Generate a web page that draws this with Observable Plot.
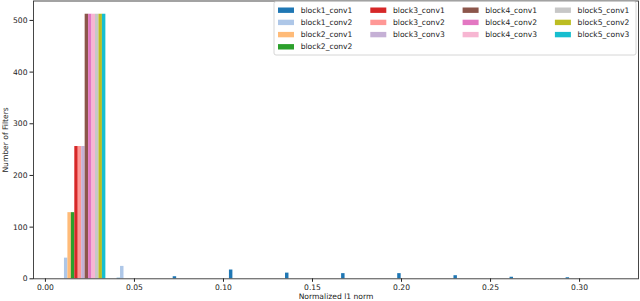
<!DOCTYPE html>
<html>
<head>
<meta charset="utf-8">
<script src="https://cdn.jsdelivr.net/npm/d3@7"></script>
<script src="https://cdn.jsdelivr.net/npm/@observablehq/plot@0.6"></script>
<style>
  html, body { margin: 0; padding: 0; background: #fff; }
  #chart { width: 640px; height: 301px; }
  svg { font-family: "DejaVu Sans", sans-serif; }
</style>
</head>
<body>
<div id="chart"></div>
<script>
// Layer names (series), in the order matplotlib draws them
const series = [
  "block1_conv1", "block1_conv2", "block2_conv1", "block2_conv2",
  "block3_conv1", "block3_conv2", "block3_conv3",
  "block4_conv1", "block4_conv2", "block4_conv3",
  "block5_conv1", "block5_conv2", "block5_conv3"
];
// tab20 colours sampled for 13 series
const colors = [
  "#1f77b4", "#aec7e8", "#ffbb78", "#2ca02c",
  "#d62728", "#ff9896", "#c5b0d5",
  "#8c564b", "#e377c2", "#f7b6d2",
  "#c7c7c7", "#bcbd22", "#17becf"
];
// Histogram bin edges (10 bins)
const binEdges = [0.0056, 0.0371, 0.0686, 0.1002, 0.1317, 0.1632, 0.1947, 0.2263, 0.2578, 0.2893, 0.3208];

// Counts per bin for each layer
const block1_conv1 = [0, 1, 4, 17, 11, 10, 10, 6, 3, 2];
const block1_conv2 = [40, 24, 0, 0, 0, 0, 0, 0, 0, 0];
const block2_conv1 = [128, 0, 0, 0, 0, 0, 0, 0, 0, 0];
const block2_conv2 = [128, 0, 0, 0, 0, 0, 0, 0, 0, 0];
const block3_conv1 = [256, 0, 0, 0, 0, 0, 0, 0, 0, 0];
const block3_conv2 = [256, 0, 0, 0, 0, 0, 0, 0, 0, 0];
const block3_conv3 = [256, 0, 0, 0, 0, 0, 0, 0, 0, 0];
const block4_conv1 = [512, 0, 0, 0, 0, 0, 0, 0, 0, 0];
const block4_conv2 = [512, 0, 0, 0, 0, 0, 0, 0, 0, 0];
const block4_conv3 = [512, 0, 0, 0, 0, 0, 0, 0, 0, 0];
const block5_conv1 = [512, 0, 0, 0, 0, 0, 0, 0, 0, 0];
const block5_conv2 = [512, 0, 0, 0, 0, 0, 0, 0, 0, 0];
const block5_conv3 = [512, 0, 0, 0, 0, 0, 0, 0, 0, 0];

const xTicks = [0.00, 0.05, 0.10, 0.15, 0.20, 0.25, 0.30];
const yTicks = [0, 100, 200, 300, 400, 500];

const countsList = [
  block1_conv1, block1_conv2, block2_conv1, block2_conv2,
  block3_conv1, block3_conv2, block3_conv3,
  block4_conv1, block4_conv2, block4_conv3,
  block5_conv1, block5_conv2, block5_conv3
];

// Build rows as matplotlib does for multi-dataset bar histograms (rwidth 0.8, side by side)
const n = series.length;
const rows = [];
countsList.forEach((counts, i) => {
  counts.forEach((c, j) => {
    const w = binEdges[j + 1] - binEdges[j];
    const x1 = binEdges[j] + w * (0.1 + 0.8 * i / n);
    rows.push({series: series[i], x1, x2: x1 + 0.8 * w / n, count: c});
  });
});

// Auto-limits like matplotlib: 5% margins around bar extents, y up to 1.05*max
const xmin = d3.min(rows, d => d.x1), xmax = d3.max(rows, d => d.x2);
const xr = xmax - xmin;
const ymax = d3.max(rows, d => d.count) * 1.05;

const fs = 7.6;
const chart = Plot.plot({
  width: 640,
  height: 301,
  marginLeft: 33,
  marginRight: 2,
  marginTop: 0.5,
  marginBottom: 22.7,
  style: {fontFamily: "DejaVu Sans, sans-serif", fontSize: fs + "px", color: "#222", background: "#fff"},
  x: {domain: [xmin - 0.05 * xr, xmax + 0.05 * xr], ticks: xTicks, tickFormat: ".2f", tickSize: 3.5, tickPadding: 2.5, label: null},
  y: {domain: [0, ymax], ticks: yTicks, tickSize: 3.5, tickPadding: 2.5, label: null},
  color: {domain: series, range: colors},
  marks: [
    Plot.rect(rows, {x1: "x1", x2: "x2", y1: 0, y2: "count", fill: "series", inset: 0}),
    Plot.frame({stroke: "#333", strokeWidth: 0.9}),
    Plot.text(["Normalized l1 norm"], {frameAnchor: "bottom", dy: 18, fontSize: fs, lineAnchor: "middle", fill: "#222"}),
    Plot.text(["Number of Filters"], {frameAnchor: "left", dx: -28, rotate: -90, textAnchor: "middle", lineAnchor: "middle", fontSize: fs, fill: "#222"})
  ]
});
document.getElementById("chart").appendChild(chart);

// Legend (upper right, 4 columns, column-major fill like matplotlib)
const svg = d3.select(chart);
const lg = svg.append("g").attr("font-family", "DejaVu Sans, sans-serif").attr("font-size", fs).attr("text-anchor", "start");
const boxX = 274, boxY = 1.5, boxW = 362, boxH = 53.5;
lg.append("rect").attr("x", boxX).attr("y", boxY).attr("width", boxW).attr("height", boxH)
  .attr("rx", 2).attr("fill", "#fff").attr("fill-opacity", 0.8).attr("stroke", "#ccc").attr("stroke-width", 0.8);
const perCol = [4, 3, 3, 3];
let k = 0;
perCol.forEach((cnt, col) => {
  for (let r = 0; r < cnt; r++, k++) {
    const cx = 278 + col * 92.3;
    const cy = 10.2 + r * 12.2;
    lg.append("rect").attr("x", cx).attr("y", cy - 2.7).attr("width", 16).attr("height", 5.4).attr("fill", colors[k]);
    lg.append("text").attr("x", cx + 22.7).attr("y", cy).attr("dy", "0.35em")
      .attr("text-anchor", "start").style("text-anchor", "start").attr("fill", "#222").text(series[k]);
  }
});
</script>
</body>
</html>
